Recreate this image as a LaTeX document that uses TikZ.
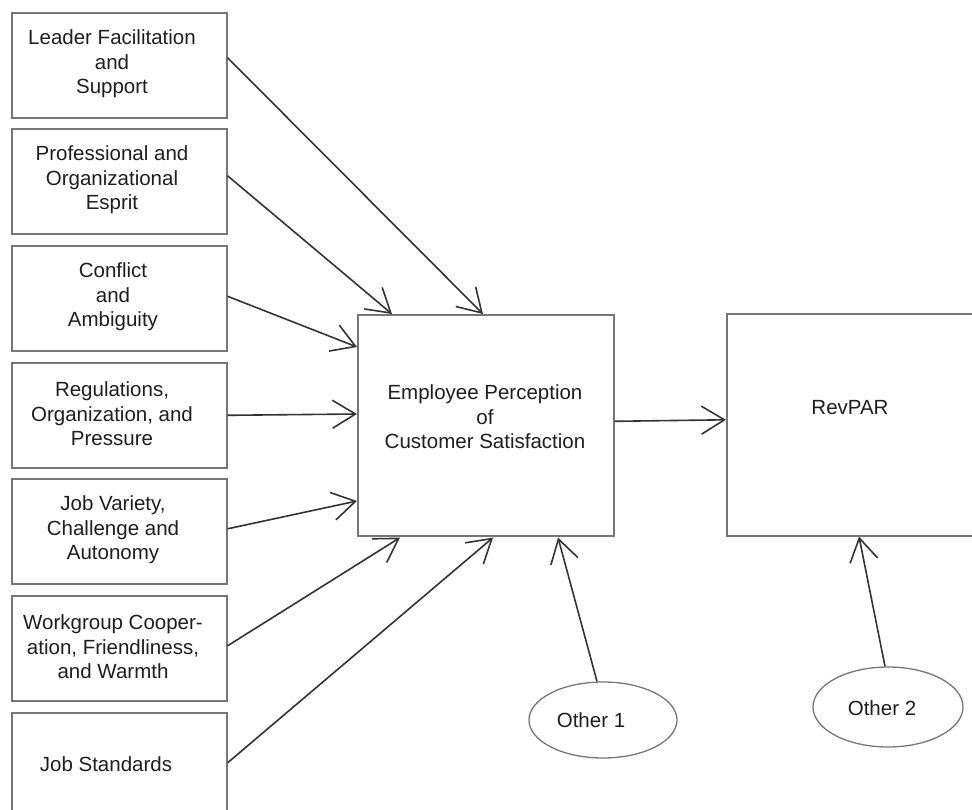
\documentclass[tikz,border=0pt]{standalone}
\usepackage{fontspec}
\setmainfont{Liberation Sans}
\usetikzlibrary{arrows.meta,shapes.geometric}

\definecolor{framegray}{HTML}{767676}
\definecolor{linegray}{HTML}{333333}
\definecolor{inkgray}{HTML}{1E1E1E}

\begin{document}
\begin{tikzpicture}[x=1pt,y=-1pt,
  factor/.style={draw=framegray, line width=1.6pt, minimum width=215pt,
    minimum height=105pt, inner sep=0pt, anchor=north west},
  bigbox/.style={draw=framegray, line width=1.6pt, inner sep=0pt, anchor=north west},
  oval/.style={ellipse, draw=framegray, line width=1.3pt, inner sep=0pt},
  lbl/.style={text=inkgray, align=center, inner sep=0pt,
    font=\fontsize{20.5}{24.5}\selectfont},
  link/.style={draw=linegray, line width=1.6pt,
    -{Straight Barb[length=23pt, width=28pt, line width=1.6pt]}}
]
\useasboundingbox (0,0) rectangle (972,810);

% seven antecedent factors on the left
\node[factor] (f1) at (11,12) {};
\node[factor] (f2) at (11,128) {};
\node[factor] (f3) at (11,245) {};
\node[factor] (f4) at (11,362) {};
\node[factor] (f5) at (11,478) {};
\node[factor] (f6) at (11,595) {};
\node[factor] (f7) at (11,712) {};

\node[lbl] (t1) at (112,64) {Leader Facilitation\\and\\Support};
\node[lbl] (t2) at (112,180) {Professional and\\Organizational\\Esprit};
\node[lbl] (t3) at (113,297) {Conflict\\and\\Ambiguity};
\node[lbl] (t4) at (112,414) {Regulations,\\Organization, and\\Pressure};
\node[lbl] (t5) at (113,530) {Job Variety,\\Challenge and\\Autonomy};
\node[lbl] (t6) at (113,647) {Workgroup Cooper-\\ation, Friendliness,\\and Warmth};
\node[lbl] (t7) at (106,764) {Job Standards};

% mediator and outcome
\node[bigbox, minimum width=256pt, minimum height=221pt] (eps) at (357,314) {};
\node[lbl] (teps) at (485,417) {Employee Perception\\of\\Customer Satisfaction};
\node[bigbox, minimum width=250pt, minimum height=222pt] (rev) at (726,313) {};
\node[lbl] (trev) at (850,408) {RevPAR};

% residual influences
\node[oval, minimum width=148pt, minimum height=76pt] (o1) at (603,720) {};
\node[lbl] (to1) at (591,720) {Other 1};
\node[oval, minimum width=150pt, minimum height=80pt] (o2) at (888,707) {};
\node[lbl] (to2) at (882,708) {Other 2};

% paths into the mediator
\draw[link] ([yshift=7.5pt]f1.east) -- ([xshift=126pt]eps.north west);
\draw[link] ([yshift=5.5pt]f2.east) -- ([xshift=35pt]eps.north west);
\draw[link] ([yshift=2pt]f3.east) -- ([yshift=-33pt]eps.north west);
\draw[link] (f4.east) -- ([yshift=-100pt]eps.north west);
\draw[link] ([yshift=2.5pt]f5.east) -- ([yshift=-187pt]eps.north west);
\draw[link] ([yshift=2.5pt]f6.east) -- ([xshift=43pt,yshift=-1pt]eps.south west);
\draw[link] ([yshift=2.5pt]f7.east) -- ([xshift=136pt,yshift=-1pt]eps.south west);
\draw[link] ([xshift=-6pt]o1.north) -- ([xshift=201pt,yshift=-1pt]eps.south west);

% mediator to outcome
\draw[link] ([yshift=4pt]eps.east) -- ([yshift=5pt]rev.west);
\draw[link] ([xshift=-3pt]o2.north) -- ([xshift=133pt]rev.south west);
\end{tikzpicture}
\end{document}
